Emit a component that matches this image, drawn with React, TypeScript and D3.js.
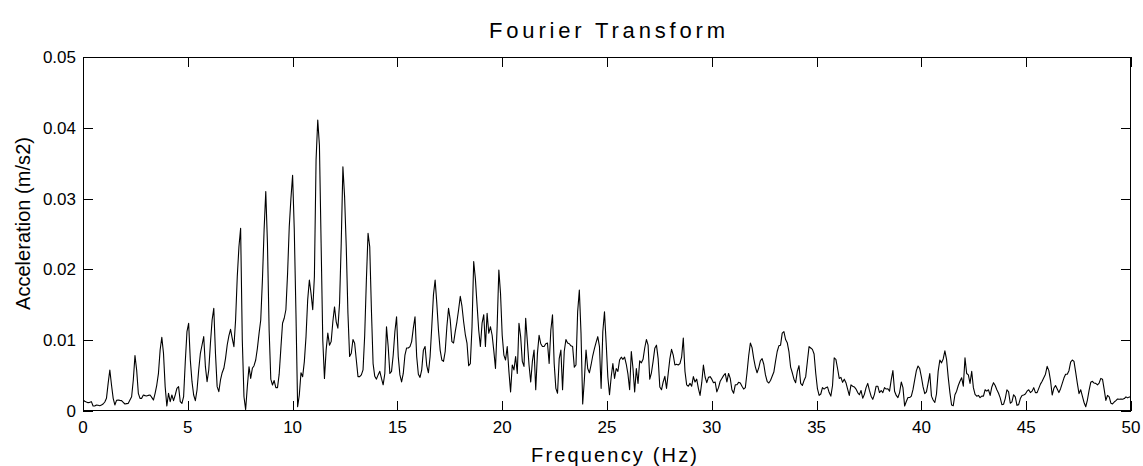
import React from "react";
import * as d3 from "d3";

// Frequency axis: uniform FFT bins of 0.08 Hz from 0 to 50 Hz
const FREQ_STEP_HZ = 0.08;

// Acceleration amplitude per bin, in units of 1e-3 m/s2
const accelMilli: number[] = [
  1.55, 1.37, 1.27, 1.18, 1.22, 1.32, 0.71, 0.71, 0.85, 0.80,
  0.75, 0.85, 0.99, 1.27, 1.79, 3.9, 5.79, 3.67, 1.79, 0.85,
  1.5, 1.55, 1.5, 1.46, 1.22, 0.99, 1.04, 1.08, 1.55, 2.02,
  4.38, 7.82, 5.79, 2.5, 1.79, 1.79, 2.26, 2.17, 2.12, 2.21,
  2.26, 1.93, 1.55, 2.5, 3.67, 5.32, 8.62, 10.4, 8.15, 3.44,
  0.71, 2.5, 1.32, 2.26, 1.46, 2.26, 3.2, 3.44, 1.32, 1.08,
  2.02, 6.97, 11.2, 12.38, 7.2, 4.14, 2.26, 1.46, 2.97, 5.79,
  8.15, 9.32, 10.5, 6.26, 4.14, 5.79, 9.56, 12.85, 14.5, 8.15,
  3.44, 2.73, 4.38, 5.41, 6.03, 7.44, 9.32, 10.6, 11.53, 10.26,
  9.09, 12.85, 18.97, 23.2, 25.8, 10.03, 2.02, 0.2, 3.44, 6.26,
  4.61, 6.03, 6.4, 7.2, 8.85, 10.97, 12.85, 18.5, 25.56, 31.0,
  23.7, 11.44, 4.5, 3.67, 4.3, 3.3, 3.3, 5.2, 8.85, 12.4,
  13.1, 14.3, 19.4, 26.0, 30.0, 33.3, 25.6, 13.8, 0.6, 2.26,
  5.4, 4.85, 6.97, 10.5, 15.7, 18.5, 16.6, 14.3, 19.0, 35.5,
  41.1, 37.5, 23.7, 10.0, 4.6, 8.6, 11.0, 9.3, 9.8, 12.6,
  14.7, 12.6, 11.7, 15.2, 23.7, 34.5, 30.3, 23.2, 13.8, 7.7,
  8.15, 10.1, 9.56, 7.2, 4.85, 4.85, 5.1, 5.8, 10.7, 18.5,
  25.1, 23.2, 14.3, 6.7, 4.9, 4.5, 5.1, 5.6, 4.6, 3.7,
  5.3, 11.9, 9.1, 5.3, 5.6, 7.9, 11.2, 13.3, 7.7, 5.1,
  4.1, 5.3, 7.9, 8.9, 8.9, 9.1, 9.8, 11.7, 13.3, 7.7,
  5.2, 4.75, 5.8, 8.6, 9.1, 6.4, 5.4, 7.7, 11.9, 16.4,
  18.5, 15.2, 11.4, 8.6, 7.2, 7.0, 8.4, 11.9, 14.5, 12.9,
  9.8, 9.6, 11.2, 12.6, 14.3, 16.2, 14.8, 12.6, 10.8, 9.6,
  6.4, 6.7, 11.9, 21.1, 18.7, 15.0, 11.4, 9.1, 12.4, 13.6,
  9.1, 13.8, 11.0, 11.9, 10.7, 8.5, 6.0, 12.0, 19.9, 16.6,
  10.7, 7.9, 7.2, 9.1, 5.6, 2.7, 6.5, 5.8, 7.7, 5.3,
  12.4, 10.5, 7.0, 6.3, 13.1, 9.8, 6.5, 4.1, 7.0, 8.6,
  3.0, 8.1, 10.7, 9.5, 9.1, 9.1, 9.5, 9.6, 6.7, 11.4,
  13.6, 6.7, 3.2, 2.5, 7.4, 8.6, 3.0, 8.4, 10.1, 9.6,
  9.5, 9.2, 9.1, 6.2, 6.5, 14.0, 17.1, 11.0, 1.0, 4.4,
  8.6, 6.0, 5.4, 6.5, 7.8, 8.8, 9.7, 10.5, 9.1, 3.2,
  11.2, 14.0, 9.6, 4.8, 2.3, 4.8, 6.7, 4.6, 6.0, 5.6,
  7.2, 7.6, 7.3, 7.6, 6.6, 5.2, 3.0, 8.4, 6.0, 2.7,
  6.0, 3.9, 7.1, 6.8, 7.3, 8.9, 10.1, 9.3, 4.5, 5.4,
  7.0, 8.85, 9.3, 7.4, 3.4, 3.0, 4.1, 4.9, 3.2, 5.3,
  7.4, 8.7, 7.9, 6.5, 6.6, 6.5, 6.7, 7.6, 10.3, 5.6,
  3.7, 3.5, 3.9, 3.5, 4.85, 4.1, 4.5, 3.2, 2.2, 4.0,
  6.5, 4.8, 4.0, 4.75, 4.85, 4.5, 4.0, 4.1, 2.7, 3.3,
  4.2, 4.6, 5.0, 5.3, 4.1, 5.3, 4.6, 3.0, 2.5, 3.7,
  3.7, 4.05, 3.95, 3.5, 3.1, 3.3, 5.4, 7.8, 9.6, 8.95,
  7.4, 6.2, 5.4, 6.1, 7.1, 7.4, 6.6, 5.1, 4.2, 3.95,
  4.3, 4.9, 5.5, 7.0, 8.4, 9.2, 9.3, 11.0, 11.2, 10.1,
  9.65, 8.4, 6.2, 5.4, 4.5, 4.0, 5.6, 6.4, 3.9, 3.6,
  4.3, 4.85, 7.0, 9.1, 8.9, 8.7, 8.05, 5.3, 3.15, 2.2,
  2.4, 3.3, 3.1, 3.3, 3.4, 2.6, 2.1, 3.6, 7.5, 7.3,
  6.0, 4.6, 4.75, 4.05, 4.5, 4.0, 3.1, 2.2, 3.7, 3.5,
  3.4, 3.1, 2.6, 2.3, 2.9, 1.8, 2.35, 3.3, 3.9, 2.9,
  2.1, 1.65, 2.35, 3.5, 3.5, 2.6, 2.9, 2.6, 3.3, 3.1,
  3.15, 2.8, 4.4, 5.7, 2.8, 2.2, 1.9, 2.6, 4.1, 3.3,
  0.7, 1.35, 1.9, 1.9, 2.1, 3.05, 4.4, 5.7, 6.35, 6.0,
  4.8, 3.4, 2.45, 2.7, 3.95, 5.3, 2.1, 1.55, 1.2, 2.4,
  5.6, 7.2, 6.8, 7.35, 8.5, 7.3, 4.75, 2.6, 0.85, 0.75,
  2.3, 2.8, 3.6, 4.2, 4.7, 3.5, 7.5, 5.3, 5.1, 3.9,
  5.6, 3.3, 2.35, 2.1, 2.2, 1.9, 2.1, 2.1, 3.0, 2.8,
  3.0, 2.2, 3.4, 4.0, 3.6, 3.0, 2.5, 1.85, 0.9, 0.95,
  1.75, 3.0, 2.7, 1.1, 1.3, 2.3, 2.0, 0.8, 0.9, 1.75,
  2.2, 2.26, 2.4, 2.8, 3.0, 2.6, 2.8, 3.3, 2.6, 2.6,
  3.2, 3.8, 4.2, 4.7, 5.2, 6.3, 5.7, 4.3, 2.26, 3.2,
  3.6, 3.1, 2.6, 3.15, 3.9, 4.65, 5.2, 5.2, 5.7, 6.9,
  7.2, 7.0, 5.5, 3.9, 2.45, 3.0, 2.1, 1.2, 0.6, 1.55,
  2.9, 4.05, 4.2, 3.95, 3.9, 3.7, 3.95, 4.6, 4.5, 3.05,
  1.5, 2.2, 2.0, 1.1, 1.0, 1.27, 1.46, 1.7, 1.65, 1.7,
  1.65, 1.75, 2.0, 1.85, 2.0, 1.85,
];

const xTicks = [0, 5, 10, 15, 20, 25, 30, 35, 40, 45, 50];
const yTicks = [0, 0.01, 0.02, 0.03, 0.04, 0.05];
const yTickLabels = ["0", "0.01", "0.02", "0.03", "0.04", "0.05"];

const TITLE = "Fourier Transform";
const X_LABEL = "Frequency (Hz)";
const Y_LABEL = "Acceleration (m/s2)";

const W = 1143;
const H = 466;
const M = { left: 83, right: 1131, top: 57, bottom: 411 };
const FONT = "'Liberation Sans', Arial, Helvetica, sans-serif";
const TICK = 10;

export default function App() {
  const data = accelMilli.map((v, i) => ({ f: i * FREQ_STEP_HZ, a: v / 1000 }));
  const x = d3.scaleLinear().domain([0, 50]).range([M.left, M.right]);
  const y = d3.scaleLinear().domain([0, 0.05]).range([M.bottom, M.top]);
  const line = d3
    .line<{ f: number; a: number }>()
    .x((d) => x(d.f))
    .y((d) => y(d.a));

  return (
    <svg
      width={W}
      height={H}
      style={{ position: "absolute", left: 0, top: 0, background: "#fff" }}
      fontFamily={FONT}
    >
      <rect x={0} y={0} width={W} height={H} fill="#fff" />
      <defs>
        <clipPath id="plotclip">
          <rect x={M.left} y={M.top} width={M.right - M.left} height={M.bottom - M.top} />
        </clipPath>
      </defs>
      <path
        d={line(data) || ""}
        fill="none"
        stroke="#000"
        strokeWidth={1.1}
        strokeLinejoin="round"
        clipPath="url(#plotclip)"
      />
      {/* axes box */}
      <rect
        x={M.left + 0.5}
        y={M.top + 0.5}
        width={M.right - M.left - 1}
        height={M.bottom - M.top - 1}
        fill="none"
        stroke="#000"
        strokeWidth={1.2}
        shapeRendering="crispEdges"
      />
      {/* x ticks */}
      {xTicks.map((t) => {
        const px = Math.round(x(t)) + 0.5;
        return (
          <g key={"x" + t}>
            <line x1={px} x2={px} y1={M.bottom} y2={M.bottom - TICK} stroke="#000" strokeWidth={1.2} shapeRendering="crispEdges" />
            <line x1={px} x2={px} y1={M.top} y2={M.top + TICK} stroke="#000" strokeWidth={1.2} shapeRendering="crispEdges" />
            <text x={x(t)} y={433} fontSize={17} textAnchor="middle" fill="#000">
              {t}
            </text>
          </g>
        );
      })}
      {/* y ticks */}
      {yTicks.map((t, i) => {
        const py = Math.round(y(t)) + 0.5;
        return (
          <g key={"y" + t}>
            <line x1={M.left} x2={M.left + TICK} y1={py} y2={py} stroke="#000" strokeWidth={1.2} shapeRendering="crispEdges" />
            <line x1={M.right} x2={M.right - TICK} y1={py} y2={py} stroke="#000" strokeWidth={1.2} shapeRendering="crispEdges" />
            <text x={76} y={y(t) + 6} fontSize={17} textAnchor="end" fill="#000">
              {yTickLabels[i]}
            </text>
          </g>
        );
      })}
      <text x={607} y={38} fontSize={22} textAnchor="middle" textLength={236} lengthAdjust="spacing" fill="#000">
        {TITLE}
      </text>
      <text x={614} y={462} fontSize={20} textAnchor="middle" textLength={166} lengthAdjust="spacing" fill="#000">
        {X_LABEL}
      </text>
      <text
        transform={`translate(30, 223.5) rotate(-90)`}
        fontSize={20}
        textAnchor="middle"
        textLength={173}
        lengthAdjust="spacing"
        fill="#000"
      >
        {Y_LABEL}
      </text>
    </svg>
  );
}
